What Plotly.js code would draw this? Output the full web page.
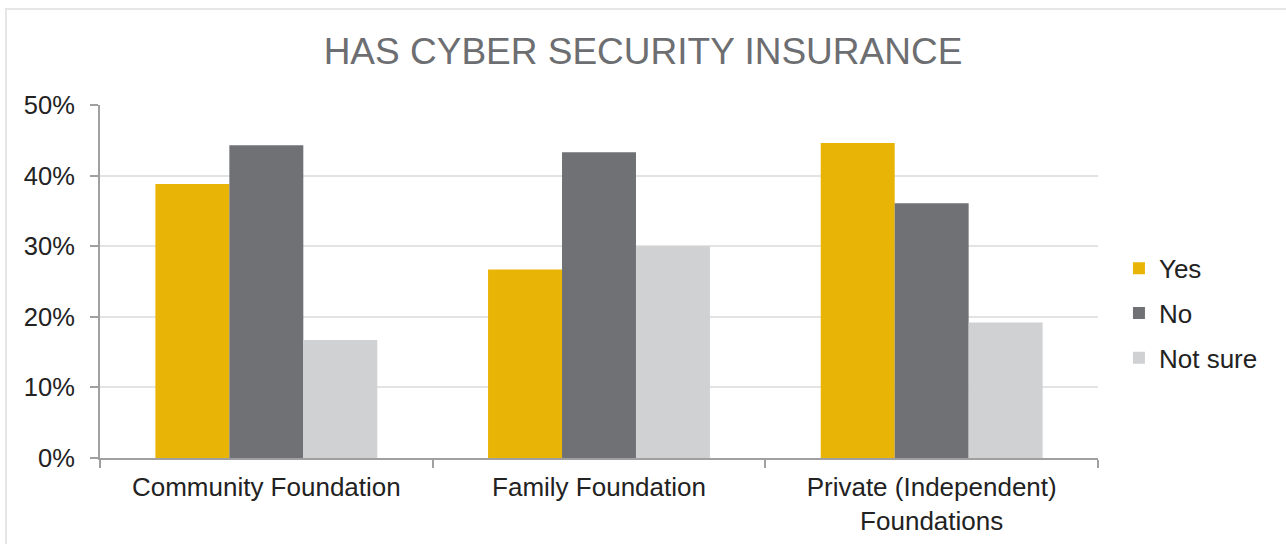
<!DOCTYPE html>
<html>
<head>
<meta charset="utf-8">
<script src="https://cdn.plot.ly/plotly-3.0.1.min.js"></script>
<style>
    html, body { margin: 0; padding: 0; background: #ffffff; overflow: hidden; }
    #frame {
        position: absolute; left: 5px; top: 8px; width: 1400px; height: 700px;
        border-left: 2px solid #e6e6e6; border-top: 2px solid #e6e6e6;
        pointer-events: none;
    }
    #chart { position: absolute; left: 0; top: 0; width: 1286px; height: 544px; }
</style>
</head>
<body>
<div id="chart"></div>
<div id="frame"></div>
<script>
// Chart data
const categories = ["Community Foundation", "Family Foundation", "Private (Independent)<br>Foundations"];
const yesValues = [0.388, 0.267, 0.446];
const noValues = [0.443, 0.433, 0.361];
const notSureValues = [0.167, 0.300, 0.192];
const seriesNames = ["Yes", "No", "Not sure"];

const COLORS = {
    yes: '#e8b405',
    no: '#6f7175',
    notSure: '#d0d1d3',
    grid: '#e3e3e3',
    axis: '#a0a0a0',
    title: '#6d6e71',
    text: '#222222'
};

const makeBar = (name, values, color, group) => ({
    type: 'bar',
    name: name,
    x: categories,
    y: values,
    legendgroup: group,
    marker: { color: color, line: { width: 0 } },
    hoverinfo: 'none'
});

const traces = [
    makeBar(seriesNames[0], yesValues, COLORS.yes, 'a'),
    makeBar(seriesNames[1], noValues, COLORS.no, 'b'),
    makeBar(seriesNames[2], notSureValues, COLORS.notSure, 'c')
];

const layout = {
    width: 1286,
    height: 544,
    paper_bgcolor: 'rgba(0,0,0,0)',
    plot_bgcolor: 'rgba(0,0,0,0)',
    margin: { l: 100, r: 188, t: 105, b: 86 },
    font: { family: 'Liberation Sans, Arial, sans-serif', size: 26, color: COLORS.text },
    title: {
        text: 'HAS CYBER SECURITY INSURANCE',
        font: { size: 37, color: COLORS.title },
        x: 0.5,
        xanchor: 'center',
        y: 0.906,
        yanchor: 'middle'
    },
    barmode: 'group',
    bargap: 0.333,
    bargroupgap: 0,
    xaxis: {
        type: 'category',
        showgrid: false,
        zeroline: false,
        showline: true,
        linecolor: COLORS.axis,
        linewidth: 2,
        ticks: 'outside',
        tickson: 'boundaries',
        ticklen: 8,
        tickcolor: COLORS.axis,
        tickwidth: 2,
        ticklabelstandoff: 5,
        tickfont: { size: 26, color: COLORS.text }
    },
    yaxis: {
        range: [0, 0.5],
        dtick: 0.1,
        tickformat: '.0%',
        showgrid: true,
        gridcolor: COLORS.grid,
        gridwidth: 2,
        zeroline: false,
        showline: true,
        linecolor: COLORS.axis,
        linewidth: 2,
        ticks: 'outside',
        ticklen: 8,
        tickcolor: COLORS.axis,
        tickwidth: 2,
        ticklabelstandoff: 10,
        tickfont: { size: 25.5, color: COLORS.text }
    },
    showlegend: true,
    legend: {
        x: 1.021,
        xanchor: 'left',
        y: 0.41,
        yanchor: 'middle',
        traceorder: 'grouped',
        tracegroupgap: 8,
        font: { size: 26, color: COLORS.text },
        bgcolor: 'rgba(0,0,0,0)'
    }
};

Plotly.newPlot('chart', traces, layout, { displayModeBar: false, staticPlot: true });
</script>
</body>
</html>
